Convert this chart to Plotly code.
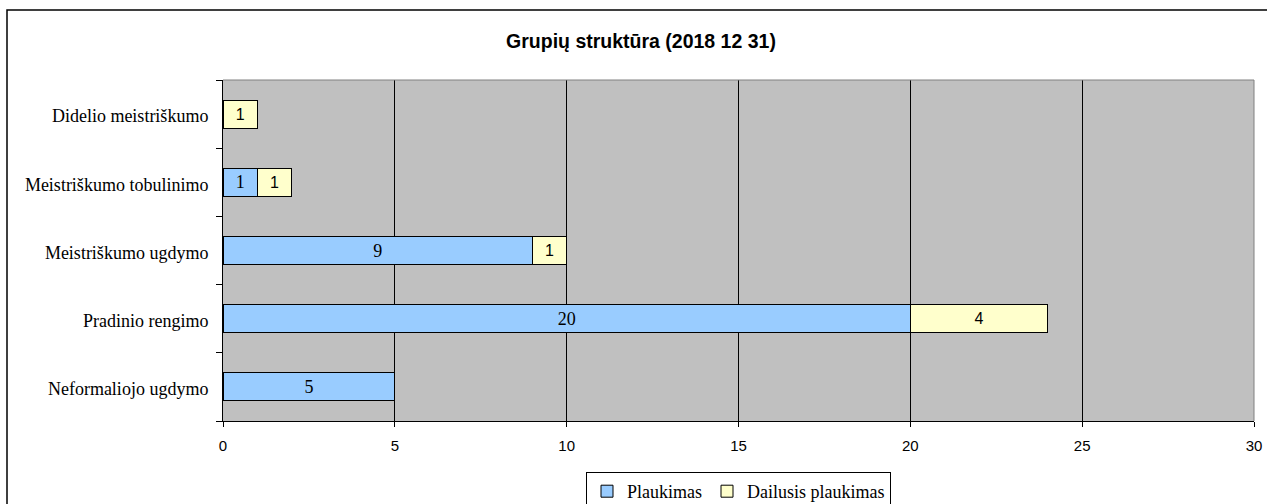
import plotly.graph_objects as go

# Data (bottom-to-top order for Plotly categorical axis)
categories = ["Neformaliojo ugdymo", "Pradinio rengimo", "Meistriškumo ugdymo",
              "Meistriškumo tobulinimo", "Didelio meistriškumo"]
plaukimas = [5, 20, 9, 1, None]
dailusis = [None, 4, 1, 1, 1]
series_names = ["Plaukimas", "Dailusis plaukimas"]
x_ticks = [0, 5, 10, 15, 20, 25, 30]
title_text = "Grupių struktūra (2018 12 31)"

SERIF = "Liberation Serif, Times New Roman, serif"
SANS = "Liberation Sans, Arial, sans-serif"

fig = go.Figure()
fig.add_trace(go.Bar(
    y=categories, x=plaukimas, name=series_names[0], orientation="h",
    marker=dict(color="#99CCFF", line=dict(color="black", width=1)),
    texttemplate="%{x}", textposition="inside", insidetextanchor="middle",
    textangle=0, textfont=dict(family=SERIF, size=18, color="black"),
))
fig.add_trace(go.Bar(
    y=categories, x=dailusis, name=series_names[1], orientation="h",
    marker=dict(color="#FFFFCC", line=dict(color="black", width=1)),
    texttemplate="%{x}", textposition="inside", insidetextanchor="middle",
    textangle=0, textfont=dict(family=SANS, size=16, color="black"),
))

W, H = 1267, 504
L, R, T, B = 223, 13, 80, 83
pw, ph = W - L - R, H - T - B

def px_x(p):
    return (p - L) / pw

def px_y(p):
    return (H - B - p) / ph

fig.update_layout(
    width=W, height=H,
    barmode="stack", bargap=0.59,
    paper_bgcolor="white", plot_bgcolor="#C0C0C0",
    margin=dict(l=L, r=R, t=T, b=B, pad=0, autoexpand=False),
    title=dict(text="<b>" + title_text + "</b>", x=641 / W, xref="container",
               xanchor="center", y=1 - 41 / H, yref="container", yanchor="middle",
               font=dict(family=SANS, size=19.5, color="black")),
    xaxis=dict(range=[0, 30], tickvals=x_ticks, showgrid=True, gridcolor="black",
               gridwidth=1, showline=True, linecolor="black", linewidth=1,
               ticks="outside", ticklen=5, tickcolor="black", zeroline=False,
               automargin=False, ticklabelstandoff=6,
               tickfont=dict(family=SANS, size=15, color="black"), fixedrange=True),
    yaxis=dict(type="category", categoryorder="array", categoryarray=categories,
               showgrid=False, showline=True, linecolor="black", linewidth=1,
               ticks="outside", tickson="boundaries", ticklen=6, tickcolor="black",
               ticklabelstandoff=10, ticklabelshift=2, automargin=False,
               tickfont=dict(family=SERIF, size=18, color="black"), fixedrange=True),
    legend=dict(orientation="h", x=0.5, xanchor="center", y=px_y(472), yanchor="top",
                bordercolor="black", borderwidth=1, bgcolor="white",
                font=dict(family=SERIF, size=18, color="black"),
                itemwidth=30, traceorder="normal"),
    showlegend=True,
    shapes=[
        # outer chart frame
        dict(type="rect", xref="paper", yref="paper",
             x0=px_x(7), x1=px_x(1280), y0=px_y(520), y1=px_y(10),
             line=dict(color="black", width=1.5), layer="below"),
        # plot-area top and right border (gray)
        dict(type="line", xref="paper", yref="paper", x0=0, x1=1, y0=1, y1=1,
             line=dict(color="#808080", width=1), layer="above"),
        dict(type="line", xref="paper", yref="paper", x0=1, x1=1, y0=0, y1=1,
             line=dict(color="#808080", width=1), layer="above"),
    ],
)

fig.write_html("out.html", config={"displayModeBar": False},
               post_script="document.body.style.margin='0';document.body.style.overflow='hidden';")
